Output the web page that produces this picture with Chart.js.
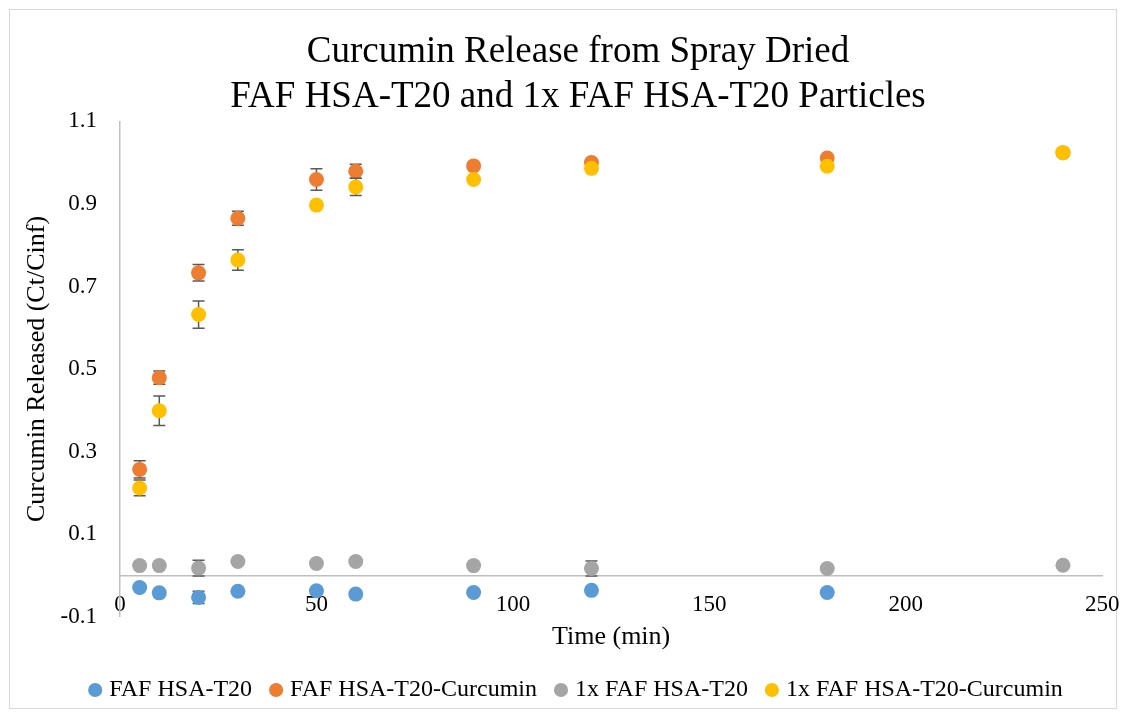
<!DOCTYPE html>
<html lang="en">
<head>
    <meta charset="UTF-8">
    <title>Curcumin Release</title>
    <script src="https://cdn.jsdelivr.net/npm/chart.js"></script>
</head>
<style>
    body { margin: 0; background: #fff; }
    #wrap { width: 1126px; height: 717px; }
</style>
<body>
    <div id="wrap"><canvas id="myChart" width="1126" height="717"></canvas></div>

    <script>
        // time points (min)
        const times = [5, 10, 20, 30, 50, 60, 90, 120, 180, 240];
        const seriesNames = ['FAF HSA-T20', 'FAF HSA-T20-Curcumin', '1x FAF HSA-T20', '1x FAF HSA-T20-Curcumin'];

        // Ct/Cinf
        const fafT20 = [-0.029, -0.042, -0.053, -0.038, -0.037, -0.045, -0.041, -0.036, -0.041, null];
        const fafT20Cur = [0.257, 0.479, 0.733, 0.865, 0.959, 0.979, 0.992, 1.000, 1.011, 1.024];
        const oneXT20 = [0.024, 0.024, 0.018, 0.034, 0.029, 0.034, 0.024, 0.017, 0.017, 0.025];
        const oneXT20Cur = [0.212, 0.399, 0.632, 0.764, 0.897, 0.941, 0.959, 0.986, 0.991, 1.024];

        // error bar half widths
        const fafT20Err = [0, 0, 0.015, 0, 0, 0, 0, 0, 0, 0];
        const fafT20CurErr = [0.021, 0.016, 0.020, 0.017, 0.026, 0.017, 0, 0, 0, 0];
        const oneXT20Err = [0, 0, 0.019, 0, 0, 0, 0, 0.018, 0, 0];
        const oneXT20CurErr = [0.019, 0.036, 0.033, 0.025, 0.005, 0.021, 0, 0, 0, 0];

        const colors = ['#5B9BD5', '#ED7D31', '#A5A5A5', '#FFC000'];
        const allY = [fafT20, fafT20Cur, oneXT20, oneXT20Cur];
        const allErr = [fafT20Err, fafT20CurErr, oneXT20Err, oneXT20CurErr];

        const FONT = '"Liberation Serif", "Times New Roman", serif';

        function points(vals) {
            const out = [];
            vals.forEach((v, i) => { if (v !== null) out.push({ x: times[i], y: v }); });
            return out;
        }

        // error bars, drawn under each series' markers
        const errorBars = {
            id: 'errorBars',
            beforeDatasetDraw(chart, args) {
                const errs = allErr[args.index];
                const ys = allY[args.index];
                const xs = chart.scales.x, yScale = chart.scales.y;
                const ctx = chart.ctx;
                ctx.save();
                ctx.strokeStyle = '#595959';
                ctx.lineWidth = 1.5;
                ys.forEach((v, i) => {
                    if (v === null || !errs[i]) return;
                    const px = xs.getPixelForValue(times[i]);
                    const top = yScale.getPixelForValue(v + errs[i]);
                    const bot = yScale.getPixelForValue(v - errs[i]);
                    ctx.beginPath();
                    ctx.moveTo(px, top); ctx.lineTo(px, bot);
                    ctx.moveTo(px - 6, top); ctx.lineTo(px + 6, top);
                    ctx.moveTo(px - 6, bot); ctx.lineTo(px + 6, bot);
                    ctx.stroke();
                });
                ctx.restore();
            }
        };

        const frame = {
            id: 'frame',
            beforeDraw(chart) {
                const ctx = chart.ctx;
                ctx.save();
                ctx.fillStyle = '#fff';
                ctx.fillRect(0, 0, chart.width, chart.height);
                ctx.strokeStyle = '#D9D9D9';
                ctx.lineWidth = 1;
                ctx.strokeRect(9.5, 9.5, 1107, 699);
                ctx.restore();
            }
        };

        const ctx = document.getElementById('myChart').getContext('2d');
        new Chart(ctx, {
            type: 'scatter',
            data: {
                datasets: seriesNames.map((name, i) => ({
                    label: name,
                    data: points(allY[i]),
                    backgroundColor: colors[i],
                    borderColor: colors[i],
                    borderWidth: 0,
                    pointRadius: 7.5,
                    pointHoverRadius: 7.5,
                    order: 4 - i   // later series drawn on top
                }))
            },
            options: {
                responsive: false,
                animation: false,
                events: [],
                layout: { padding: { left: 30, right: 0, top: 0, bottom: 5 } },
                plugins: {
                    title: {
                        display: true,
                        text: ['Curcumin Release from Spray Dried', 'FAF HSA-T20 and 1x FAF HSA-T20 Particles'],
                        color: '#000',
                        font: { family: FONT, size: 37, weight: 'normal', lineHeight: 1.22 },
                        padding: { top: 30, bottom: 1 }
                    },
                    legend: {
                        position: 'bottom',
                        labels: {
                            usePointStyle: true,
                            pointStyle: 'circle',
                            boxWidth: 4,
                            boxHeight: 10,
                            padding: 22,
                            color: '#000',
                            font: { family: FONT, size: 24 },
                            sort: (a, b) => a.datasetIndex - b.datasetIndex
                        }
                    },
                    tooltip: { enabled: false }
                },
                scales: {
                    x: {
                        type: 'linear',
                        position: 'bottom',
                        min: 0,
                        max: 250,
                        ticks: { display: false, stepSize: 50 },
                        grid: { display: false, drawTicks: false },
                        border: { display: false },
                        title: {
                            display: true,
                            text: 'Time (min)',
                            color: '#000',
                            font: { family: FONT, size: 26 },
                            padding: { top: 5, bottom: 3 }
                        }
                    },
                    xZero: {
                        type: 'linear',
                        axis: 'x',
                        position: { y: 0 },
                        min: 0,
                        max: 250,
                        ticks: { stepSize: 50, padding: 6.5, color: '#000', font: { family: FONT, size: 23, lineHeight: 1.983 } },
                        grid: { display: false, drawTicks: false },
                        border: { display: true, color: '#BFBFBF', width: 1.5 }
                    },
                    y: {
                        type: 'linear',
                        min: -0.1,
                        max: 1.1,
                        afterFit: scale => { scale.width = 90; },
                        ticks: {
                            stepSize: 0.2,
                            padding: 23,
                            color: '#000',
                            font: { family: FONT, size: 23 },
                            callback: v => Math.round(v * 10) / 10
                        },
                        grid: { display: false, drawTicks: false },
                        border: { display: true, color: '#BFBFBF', width: 1.5 },
                        title: {
                            display: true,
                            text: 'Curcumin Released (Ct/Cinf)',
                            color: '#000',
                            font: { family: FONT, size: 26 },
                            padding: { top: -8.6, bottom: 0 }
                        }
                    }
                }
            },
            plugins: [frame, errorBars]
        });
    </script>
</body>
</html>
